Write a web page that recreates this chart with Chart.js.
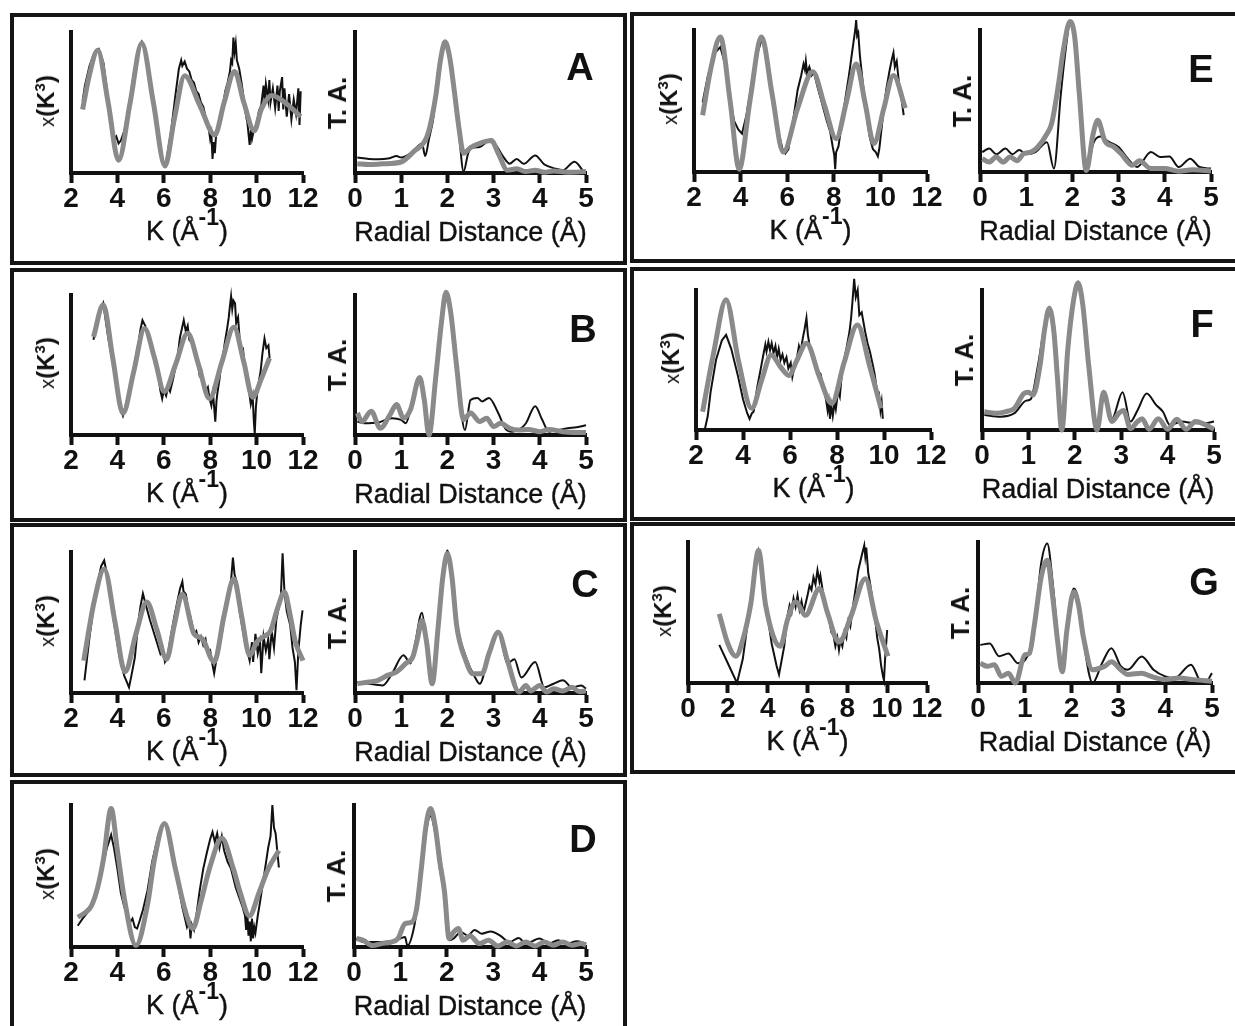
<!DOCTYPE html>
<html>
<head>
<meta charset="utf-8">
<script src="https://cdn.jsdelivr.net/npm/chart.js@4.4.0/dist/chart.umd.min.js"></script>
<style>
body{margin:0;background:#fff;width:1235px;height:1026px;overflow:hidden;position:relative;font-family:"Liberation Sans",Arial,sans-serif;color:#111}
.frame{position:absolute;border:4px solid #151515;box-sizing:border-box}
canvas{position:absolute}
.xt{position:absolute;font-size:27px;line-height:1;white-space:nowrap;transform:translateX(-50%);-webkit-text-stroke:0.4px #111}
.xt .sup{position:relative;top:-15px;font-weight:bold;font-size:23px;-webkit-text-stroke:0}
.yt{position:absolute;font-size:24px;font-weight:bold;line-height:1;white-space:nowrap;transform:translate(-50%,-50%) rotate(-90deg)}
.yt .chi{font-weight:normal;font-size:20px}
.yt sup{font-size:15px}
.yt.ta{font-size:26px}
.lbl{position:absolute;font-size:38px;font-weight:bold;line-height:1;transform:translateX(-50%)}
</style>
</head>
<body>
<script>
// ---- chi(k) k^3-weighted data (black) and fits (gray), [k, value] ----
const aChiData = [[2.5,51],[2.6,62],[2.8,76],[3.0,85],[3.2,88],[3.4,78],[3.6,52],[3.75,30],[3.85,24],[3.95,26],[4.05,21],[4.15,23],[4.3,30],[4.5,48],[4.7,70],[4.9,88],[5.05,93],[5.2,86],[5.4,68],[5.6,42],[5.8,20],[6.0,6],[6.1,8],[6.3,28],[6.5,55],[6.65,74],[6.75,80],[6.8,76],[6.9,79],[7.0,74],[7.1,72],[7.2,66],[7.3,64],[7.4,58],[7.5,56],[7.6,50],[7.7,47],[7.8,40],[7.9,36],[7.95,30],[8.0,24],[8.05,28],[8.1,10],[8.15,22],[8.2,14],[8.25,26],[8.35,30],[8.45,40],[8.55,48],[8.65,58],[8.75,64],[8.85,72],[8.9,80],[8.95,78],[9.0,96],[9.05,86],[9.1,92],[9.15,80],[9.25,74],[9.35,64],[9.45,52],[9.55,40],[9.6,36],[9.7,20],[9.75,30],[9.8,24],[9.9,32],[10.0,34],[10.1,44],[10.2,48],[10.3,62],[10.35,50],[10.4,63],[10.5,52],[10.55,66],[10.6,50],[10.7,60],[10.8,46],[10.9,62],[10.95,44],[11.0,58],[11.1,68],[11.15,45],[11.2,60],[11.3,40],[11.4,56],[11.5,38],[11.6,52],[11.7,42],[11.8,60],[11.85,34],[11.9,58]];
const aChiFit = [[2.5,45],[2.8,70],[3.15,87],[3.6,50],[4.05,9],[4.55,50],[5.05,92],[5.55,50],[6.05,5],[6.45,38],[6.9,69],[7.55,48],[8.2,27],[8.6,50],[9.05,72],[9.45,50],[9.9,30],[10.2,45],[10.65,55],[11.3,49],[11.9,40]];
const bChiData = [[2.97,68],[3.15,84],[3.39,94],[3.6,70],[3.9,43],[4.1,22],[4.24,14],[4.4,24],[4.58,38],[4.75,52],[4.92,67],[5.0,76],[5.08,82],[5.2,78],[5.3,72],[5.42,67],[5.55,58],[5.65,50],[5.76,43],[5.85,32],[5.93,26],[6.0,32],[6.1,28],[6.18,34],[6.27,31],[6.4,40],[6.5,48],[6.61,58],[6.7,70],[6.78,76],[6.86,82],[6.95,74],[7.03,78],[7.1,68],[7.2,66],[7.29,62],[7.38,56],[7.46,52],[7.54,43],[7.62,46],[7.7,38],[7.8,31],[7.9,34],[7.97,26],[8.05,21],[8.12,30],[8.22,9.5],[8.27,24],[8.31,30],[8.4,40],[8.47,50],[8.55,56],[8.63,66],[8.73,76],[8.8,84],[8.85,92],[8.9,99],[8.95,90],[9.0,96],[9.07,94],[9.12,80],[9.2,84],[9.3,62],[9.41,62],[9.5,48],[9.58,40],[9.66,33],[9.75,22],[9.83,28],[9.88,10],[9.92,1],[9.97,20],[10.05,34],[10.17,45],[10.25,58],[10.34,69],[10.42,62],[10.51,64],[10.56,55]];
const bChiFit = [[2.97,70],[3.39,93],[3.8,55],[4.24,15.5],[4.7,45],[5.17,76],[5.6,55],[6.02,31],[6.5,50],[7.03,72.6],[7.5,50],[7.97,26],[8.5,52],[9.02,77],[9.45,52],[9.83,27],[10.2,40],[10.56,55]];
const cChiData = [[2.58,9],[2.8,40],[3.05,70],[3.3,90],[3.43,94],[3.6,80],[3.9,45],[4.1,25],[4.3,12],[4.4,8],[4.5,4],[4.6,12],[4.75,25],[4.9,50],[5.0,62],[5.1,70.5],[5.2,64],[5.3,58],[5.4,52],[5.55,44],[5.7,36],[5.85,28],[5.95,32],[6.05,22],[6.15,25],[6.3,40],[6.45,54],[6.6,66],[6.7,74],[6.8,79],[6.85,72],[6.95,70],[7.05,60],[7.15,54],[7.3,42],[7.4,44],[7.5,36],[7.6,40],[7.7,34],[7.8,38],[7.9,28],[8.0,30],[8.1,20],[8.17,14],[8.25,22],[8.35,28],[8.5,42],[8.65,58],[8.8,70],[8.9,80],[8.98,96],[9.05,84],[9.15,78],[9.25,60],[9.4,45],[9.5,36],[9.6,30],[9.7,23],[9.8,36],[9.85,22],[9.95,42],[10.05,28],[10.15,36],[10.2,14],[10.3,40],[10.4,30],[10.5,38],[10.55,24],[10.65,44],[10.75,32],[10.85,52],[10.95,60],[11.05,70],[11.12,99],[11.2,72],[11.3,58],[11.45,48],[11.55,32],[11.65,22],[11.72,2],[11.8,30],[11.9,48],[11.98,58.6]];
const cChiFit = [[2.55,23],[3.0,65],[3.43,88],[3.9,50],[4.33,15],[4.8,42],[5.27,64.5],[5.7,45],[6.12,24],[6.45,48],[6.8,70],[7.3,42],[7.66,38.5],[8.17,22],[8.6,55],[9.02,81],[9.35,55],[9.7,26.7],[10.0,36],[10.3,40],[10.6,44],[10.9,60],[11.2,71.6],[11.45,55],[11.66,37],[12.0,23]];
const dChiData = [[2.29,15],[2.5,20],[2.7,24],[2.88,29],[3.1,40],[3.39,58],[3.55,70],[3.73,79],[3.85,70],[4.0,55],[4.15,38],[4.3,28],[4.45,22],[4.55,17.6],[4.65,20],[4.75,14],[4.85,13],[4.95,18],[5.1,26],[5.3,40],[5.5,60],[5.75,78],[6.0,87],[6.1,86],[6.3,72],[6.55,50],[6.8,28],[7.0,14],[7.1,18],[7.15,6],[7.2,16],[7.3,12],[7.4,22],[7.55,40],[7.7,55],[7.85,66],[8.0,76],[8.1,81],[8.2,74],[8.3,80],[8.4,70],[8.5,78],[8.6,68],[8.75,60],[8.9,55],[9.1,42],[9.25,35],[9.4,28],[9.5,22],[9.55,12],[9.6,24],[9.65,8],[9.7,18],[9.75,4],[9.8,20],[9.85,6],[9.9,14],[9.95,10],[10.05,22],[10.15,32],[10.3,48],[10.5,70],[10.6,78],[10.68,100],[10.75,84],[10.82,80],[10.9,66],[10.96,56]];
const dChiFit = [[2.29,21],[2.6,24],[2.88,29],[3.15,42],[3.4,62],[3.73,97.6],[4.0,68],[4.3,34],[4.8,1],[5.3,30],[5.6,62],[6.03,87],[6.5,55],[6.9,27],[7.25,13],[7.6,32],[8.0,57],[8.5,76.5],[9.0,55],[9.3,38],[9.69,22],[10.1,38],[10.5,55],[10.96,68]];
const eChiData = [[2.37,49],[2.6,68],[2.9,84],[3.13,88],[3.35,75],[3.55,52],[3.72,36],[3.9,30],[4.06,27],[4.25,40],[4.5,65],[4.75,85],[4.9,93],[5.05,88],[5.3,62],[5.6,30],[5.8,16],[5.92,13],[6.05,16],[6.25,36],[6.45,58],[6.6,68],[6.7,76],[6.76,72],[6.8,78],[6.85,70],[6.95,74],[7.05,68],[7.15,70],[7.3,60],[7.5,48],[7.7,36],[7.85,28],[7.95,18],[8.02,12],[8.06,2],[8.1,14],[8.2,18],[8.35,35],[8.5,52],[8.65,68],[8.75,80],[8.85,92],[8.92,100],[8.96,107],[9.0,96],[9.05,98],[9.12,82],[9.25,62],[9.4,40],[9.55,24],[9.68,16],[9.8,14],[9.89,11],[9.95,16],[10.1,38],[10.25,58],[10.4,72],[10.5,80],[10.56,84],[10.62,74],[10.7,78],[10.8,62],[10.9,52],[11.0,40]];
const eChiFit = [[2.37,40],[2.75,75],[3.13,95],[3.55,50],[3.94,2],[4.4,50],[4.9,95],[5.35,55],[5.83,14],[6.45,45],[7.1,70.6],[7.6,47],[8.1,23.5],[8.55,50],[8.96,76],[9.35,48],[9.72,20],[10.15,45],[10.56,68],[11.07,45]];
const fChiData = [[2.37,0],[2.5,10],[2.62,27],[2.85,50],[3.1,64],[3.28,68],[3.5,58],[3.78,39],[4.0,22],[4.18,12],[4.28,8],[4.38,12],[4.45,13],[4.6,30],[4.78,46],[4.88,55],[4.95,61],[5.0,56],[5.08,63],[5.15,57],[5.22,62],[5.3,55],[5.38,60],[5.45,52],[5.52,58],[5.6,50],[5.68,54],[5.76,48],[5.85,52],[5.93,44],[6.03,48],[6.1,38],[6.2,46],[6.3,52],[6.38,60],[6.45,56],[6.55,66],[6.62,72],[6.7,80],[6.76,68],[6.82,62],[6.87,58],[7.0,52],[7.1,48],[7.2,42],[7.3,40],[7.4,32],[7.53,22],[7.6,14],[7.65,20],[7.7,8],[7.75,18],[7.82,10],[7.9,20],[7.95,15],[8.05,28],[8.12,24],[8.2,39],[8.3,50],[8.4,58],[8.53,70],[8.6,80],[8.66,92],[8.73,108],[8.8,95],[8.88,100],[8.95,82],[9.05,84],[9.2,70],[9.3,62],[9.4,56],[9.53,46],[9.6,40],[9.7,28],[9.78,27],[9.85,14],[9.9,20],[9.95,8]];
const fChiFit = [[2.28,13],[2.75,55],[3.28,93],[3.8,50],[4.37,15.5],[4.8,36],[5.2,53.6],[5.6,45],[5.95,39],[6.3,50],[6.7,62],[7.25,38],[7.78,19],[8.3,48],[8.87,75],[9.4,45],[9.87,15.5]];
const gChiData = [[1.57,27],[2.0,14],[2.46,0],[2.75,17],[3.15,58],[3.35,80],[3.54,93],[3.75,72],[4.0,47],[4.2,28],[4.45,12],[4.57,6],[4.83,26],[5.0,48],[5.1,55],[5.2,50],[5.3,60],[5.4,54],[5.5,62],[5.6,52],[5.7,58],[5.8,50],[5.9,56],[6.0,62],[6.1,69],[6.2,66],[6.3,75],[6.4,70],[6.5,80],[6.6,72],[6.65,76],[6.8,62],[6.95,52],[7.1,44],[7.2,36],[7.3,34],[7.4,26],[7.5,32],[7.58,23.5],[7.65,30],[7.75,26],[7.85,36],[7.95,32],[8.05,44],[8.15,40],[8.3,56],[8.45,70],[8.55,80],[8.65,86],[8.75,92],[8.85,97.6],[8.9,90],[8.95,96],[9.05,78],[9.15,70],[9.25,60],[9.35,52],[9.5,32],[9.6,24],[9.7,12],[9.8,4],[9.84,2],[9.9,18],[10.0,37.6]];
const gChiFit = [[1.57,49],[2.0,28],[2.4,19],[2.8,33],[3.15,56],[3.54,94],[3.9,55],[4.63,26],[5.0,45],[5.41,57.6],[5.9,48],[6.6,67],[7.0,50],[7.58,29],[8.2,48],[8.9,74],[9.45,44],[10.04,19]];

// ---- Fourier transform magnitude vs radial distance, [R, value] ----
const aFtData = [[0.05,11],[0.3,10],[0.5,9.7],[0.75,10.5],[0.9,12],[1.0,11],[1.2,14],[1.4,20],[1.45,21],[1.52,12],[1.6,24],[1.7,40],[1.75,55],[1.85,80],[1.95,93],[2.05,82],[2.15,56],[2.25,28],[2.35,1],[2.45,14],[2.55,18],[2.7,18.5],[2.85,22],[2.95,24],[3.05,20],[3.2,12],[3.35,6.6],[3.5,10],[3.65,6.5],[3.9,12.5],[4.1,6],[4.35,3],[4.5,2],[4.75,8],[4.95,1]];
const aFtFit = [[0.05,6.6],[0.3,6],[0.6,6.5],[1.0,7.8],[1.3,16],[1.5,22],[1.6,30],[1.75,55],[1.85,80],[1.95,93],[2.05,82],[2.15,58],[2.25,32],[2.35,14],[2.5,18],[2.7,21],[2.95,23],[3.1,14],[3.3,2],[3.5,3],[3.7,1],[3.9,2],[4.1,0.5],[4.3,1.5],[4.6,0.5],[5.0,1]];
const bFtData = [[0.05,9.6],[0.2,8.4],[0.5,8.9],[0.8,12],[1.0,10.8],[1.1,8.4],[1.2,18],[1.4,41],[1.6,1],[1.75,42],[1.97,100],[2.2,47],[2.38,3.6],[2.5,25],[2.65,26.5],[2.75,24],[2.9,26.5],[3.1,15.7],[3.25,4.8],[3.4,2.4],[3.55,3.6],[3.7,8.4],[3.9,20.5],[4.05,11],[4.2,2.4],[4.4,3.6],[4.6,4.8],[4.8,5.5],[5.0,7]];
const bFtFit = [[0.05,15.7],[0.15,9.6],[0.35,17],[0.55,4.8],[0.75,14],[0.9,21.7],[1.05,12],[1.2,18],[1.4,41],[1.5,25],[1.6,0],[1.75,42],[1.87,80],[1.97,102],[2.07,88],[2.2,49],[2.35,11],[2.5,15.7],[2.7,9.6],[2.85,12],[3.0,6],[3.15,8.4],[3.35,4.8],[3.55,3.6],[3.75,4],[4.0,2.4],[4.2,4],[4.5,2.4],[5.0,1.7]];
const cFtData = [[0.05,7.8],[0.3,6.6],[0.6,5.4],[0.8,13.7],[1.05,26.7],[1.2,21],[1.3,35],[1.45,57],[1.55,33],[1.67,9],[1.8,51],[1.9,85],[2.0,101],[2.1,85],[2.2,51],[2.4,25.5],[2.6,11],[2.7,6.6],[2.9,28],[3.1,44],[3.3,21],[3.45,24],[3.6,11],[3.9,22],[4.1,4],[4.3,6.6],[4.5,9],[4.7,4],[4.9,5.4],[5.0,3]];
const cFtFit = [[0.05,6.6],[0.3,7.8],[0.5,9],[0.7,12.5],[0.9,15],[1.1,21],[1.25,25.5],[1.35,38],[1.45,51.5],[1.55,36],[1.67,6.6],[1.8,47],[1.9,82],[2.0,99],[2.1,82],[2.2,48],[2.4,23],[2.55,13.7],[2.75,13.7],[2.9,28],[3.1,43],[3.3,23],[3.55,0.7],[3.7,5.4],[3.8,1.5],[4.0,5.4],[4.15,0.7],[4.3,3],[4.5,1.5],[4.7,4],[4.85,1],[5.0,1.5]];
const dFtData = [[0.05,6],[0.2,3.5],[0.5,3.5],[0.8,4],[1.0,6],[1.1,7],[1.15,1],[1.3,15],[1.45,50],[1.55,80],[1.65,92],[1.75,80],[1.85,55],[1.95,36],[2.05,4.7],[2.15,6],[2.3,10.6],[2.45,8],[2.6,12],[2.75,9.4],[2.95,11],[3.15,8],[3.35,3.5],[3.55,6.4],[3.7,2.4],[4.0,6],[4.2,2.4],[4.4,4.7],[4.6,2.4],[4.8,4],[5.0,2.4]];
const dFtFit = [[0.05,6],[0.2,4.7],[0.4,1],[0.6,2.4],[0.8,3.5],[0.95,6],[1.1,16.5],[1.25,17.6],[1.35,27],[1.45,55],[1.55,85],[1.65,97.6],[1.75,85],[1.85,60],[1.95,39],[2.05,6],[2.15,10.6],[2.25,13],[2.35,4.7],[2.5,8],[2.7,2.4],[2.9,4.7],[3.1,0.7],[3.3,3.5],[3.5,0.7],[3.7,3.5],[3.9,0.7],[4.1,3.5],[4.3,1.2],[4.5,3.5],[4.7,1.2],[4.9,2.4],[5.0,1.2]];
const eFtData = [[0.05,14],[0.2,16.5],[0.35,12.5],[0.55,16.5],[0.7,12.5],[0.85,15.5],[1.0,12.5],[1.2,14],[1.45,21],[1.6,2.4],[1.75,55],[1.85,85],[1.95,105],[2.05,94],[2.15,50],[2.3,0],[2.45,20],[2.6,25],[2.8,21],[3.0,17.6],[3.2,9.4],[3.4,3.5],[3.7,14],[3.9,10.6],[4.1,11],[4.3,3.5],[4.55,9.4],[4.75,3.5],[5.0,2.4]];
const eFtFit = [[0.05,9.4],[0.2,7],[0.35,10.6],[0.5,7],[0.65,10.6],[0.8,8],[0.95,13],[1.1,14],[1.25,17.6],[1.45,27],[1.55,34],[1.7,62],[1.8,85],[1.95,106],[2.05,95],[2.15,55],[2.3,1],[2.45,27],[2.55,36.5],[2.7,22],[2.9,17.6],[3.05,13],[3.3,4.7],[3.45,8],[3.7,2.4],[4.0,2.4],[4.3,0.5],[4.6,1.5],[5.0,0.7]];
const fFtData = [[0.05,10.7],[0.4,9.5],[0.7,12],[0.95,21],[1.05,22],[1.2,45],[1.35,75],[1.45,88],[1.55,75],[1.6,58],[1.72,4],[1.85,56],[1.97,92],[2.07,106],[2.17,90],[2.3,44],[2.48,1],[2.62,22.6],[2.8,8],[3.03,27],[3.2,6],[3.35,14],[3.55,26],[3.75,18],[3.9,13],[4.05,3.6],[4.3,6],[4.6,4.8],[4.8,4.8],[5.0,6]];
const fFtFit = [[0.05,13],[0.3,12],[0.5,13],[0.7,15.5],[0.9,26],[1.0,27],[1.1,25],[1.25,46],[1.35,72],[1.45,87],[1.55,70],[1.62,40],[1.72,0],[1.85,58],[1.97,92],[2.07,105],[2.17,90],[2.3,46],[2.48,0],[2.62,27],[2.8,6],[2.95,12],[3.05,14],[3.2,1],[3.35,6],[3.45,8],[3.6,0.5],[3.8,8],[4.0,0.5],[4.2,7.6],[4.4,0.5],[4.6,6],[4.8,4],[5.0,0.5]];
const gFtData = [[0.05,27],[0.25,28],[0.45,19],[0.65,21],[0.85,14],[1.0,16],[1.1,23],[1.25,55],[1.35,85],[1.48,99],[1.6,70],[1.7,35],[1.8,12],[1.9,40],[2.05,67],[2.15,58],[2.25,31],[2.45,0],[2.65,14],[2.85,24.7],[3.05,12],[3.2,9.4],[3.5,18.8],[3.75,9.4],[4.0,4.7],[4.2,3.5],[4.55,13],[4.75,1.2],[4.85,0],[5.0,7]];
const gFtFit = [[0.05,14],[0.2,11.8],[0.35,13],[0.5,4.7],[0.65,7],[0.8,0],[1.0,20],[1.1,21],[1.2,40],[1.35,75],[1.48,87],[1.6,60],[1.7,30],[1.8,8],[1.9,37.6],[2.05,64.7],[2.15,55],[2.25,33],[2.45,9.4],[2.7,11.8],[2.85,15],[3.05,9.4],[3.2,6],[3.5,7],[3.7,4.7],[4.0,2.4],[4.3,3.5],[4.6,2.4],[5.0,1.2]];

const GRAY = '#8a8a8a';
const BLACK = '#111111';

// page layout: frame [left, top, width, height], plot boxes [xAxisStart, xAxisEnd, top, bottom]
const panels = [
  { id: 'A', frame: [10, 13, 617, 252], k: [71, 303, 32, 173], r: [355, 586, 32, 173], kMin: 2, letter: [580, 53], chi: [aChiData, aChiFit], ft: [aFtData, aFtFit] },
  { id: 'B', frame: [10, 268, 617, 254], k: [71, 303, 295, 435], r: [355, 586, 295, 435], kMin: 2, letter: [583, 315], chi: [bChiData, bChiFit], ft: [bFtData, bFtFit] },
  { id: 'C', frame: [10, 523, 617, 254], k: [71, 303, 552, 693], r: [355, 586, 552, 693], kMin: 2, letter: [585, 570], chi: [cChiData, cChiFit], ft: [cFtData, cFtFit] },
  { id: 'D', frame: [10, 780, 617, 270], k: [71, 303, 805, 947], r: [354, 586, 805, 947], kMin: 2, letter: [583, 825], chi: [dChiData, dChiFit], ft: [dFtData, dFtFit] },
  { id: 'E', frame: [630, 12, 620, 251], k: [694, 927, 30, 172], r: [980, 1211, 30, 172], kMin: 2, letter: [1201, 55], chi: [eChiData, eChiFit], ft: [eFtData, eFtFit] },
  { id: 'F', frame: [630, 267, 620, 254], k: [696, 931, 290, 430], r: [982, 1214, 290, 430], kMin: 2, letter: [1202, 310], chi: [fChiData, fChiFit], ft: [fFtData, fFtFit] },
  { id: 'G', frame: [630, 522, 620, 252], k: [688, 927, 542, 683], r: [978, 1212, 542, 683], kMin: 0, letter: [1204, 568], chi: [gChiData, gChiFit], ft: [gFtData, gFtFit] }
];

const PAD_L = 20, PAD_R = 26, PAD_T = 16, AX_W = 4, AX_H = 50;

Chart.defaults.font.family = '"Liberation Sans", Arial, sans-serif';
Chart.defaults.color = '#111';
Chart.defaults.animation = false;

function addDiv(cls, html, left, top) {
  const d = document.createElement('div');
  d.className = cls;
  d.innerHTML = html;
  d.style.left = left + 'px';
  d.style.top = top + 'px';
  document.body.appendChild(d);
  return d;
}

function drawPlot(box, xMin, xMax, step, raw, fit, rawSmooth) {
  const [x0, x1, y0, y1] = box;
  const cv = document.createElement('canvas');
  const w = PAD_L + AX_W + (x1 - x0) + PAD_R;
  const h = PAD_T + (y1 - y0) + AX_H;
  cv.width = w; cv.height = h;
  cv.style.width = w + 'px'; cv.style.height = h + 'px';
  cv.style.left = (x0 - PAD_L - AX_W) + 'px';
  cv.style.top = (y0 - PAD_T) + 'px';
  document.body.appendChild(cv);

  new Chart(cv, {
    type: 'line',
    data: {
      datasets: [
        { data: fit, borderColor: GRAY, borderWidth: 5, pointRadius: 0, cubicInterpolationMode: 'monotone', clip: 20, order: 0 },
        { data: raw, borderColor: BLACK, borderWidth: 2, pointRadius: 0,
          cubicInterpolationMode: rawSmooth ? 'monotone' : 'default', tension: 0, clip: 20, order: 1 }
      ]
    },
    options: {
      responsive: false,
      devicePixelRatio: 1,
      layout: { padding: { left: PAD_L, right: PAD_R, top: PAD_T, bottom: 0 } },
      plugins: { legend: { display: false }, tooltip: { enabled: false } },
      events: [],
      scales: {
        x: {
          type: 'linear', min: xMin, max: xMax,
          ticks: { stepSize: step, padding: -1, font: { size: 28, weight: 'bold' }, color: '#111', maxRotation: 0, autoSkip: false },
          grid: { display: true, drawOnChartArea: false, drawTicks: true, tickLength: 10, tickWidth: 4, tickColor: '#111', color: '#111' },
          border: { display: true, width: 4, color: '#111' },
          afterFit: s => { s.height = AX_H; s.paddingLeft = 0; s.paddingRight = 0; }
        },
        y: {
          min: 0, max: 100,
          ticks: { display: false },
          grid: { display: false },
          border: { display: true, width: 4, color: '#111' },
          afterFit: s => { s.width = AX_W; s.paddingTop = 0; s.paddingBottom = 0; s.paddingLeft = 0; s.paddingRight = 0; }
        }
      }
    }
  });
}

panels.forEach(p => {
  const f = addDiv('frame', '', p.frame[0], p.frame[1]);
  f.style.width = p.frame[2] + 'px';
  f.style.height = p.frame[3] + 'px';

  drawPlot(p.k, p.kMin, 12, 2, p.chi[0], p.chi[1], false);
  drawPlot(p.r, 0, 5, 1, p.ft[0], p.ft[1], true);

  const [kx0, kx1, ky0, ky1] = p.k;
  const [rx0, rx1, ry0, ry1] = p.r;
  addDiv('xt', 'K (Å<span class="sup">-1</span>)', (kx0 + kx1) / 2, ky1 + 45);
  addDiv('xt', 'Radial Distance (Å)', (rx0 + rx1) / 2, ry1 + 46);
  addDiv('yt', '<span class="chi">x</span>(K<sup>3</sup>)', kx0 - 26, (ky0 + ky1) / 2 - 2);
  addDiv('yt ta', 'T. A.', rx0 - 18, (ry0 + ry1) / 2);
  addDiv('lbl', p.id, p.letter[0], p.letter[1] - 5);
});
</script>
</body>
</html>
